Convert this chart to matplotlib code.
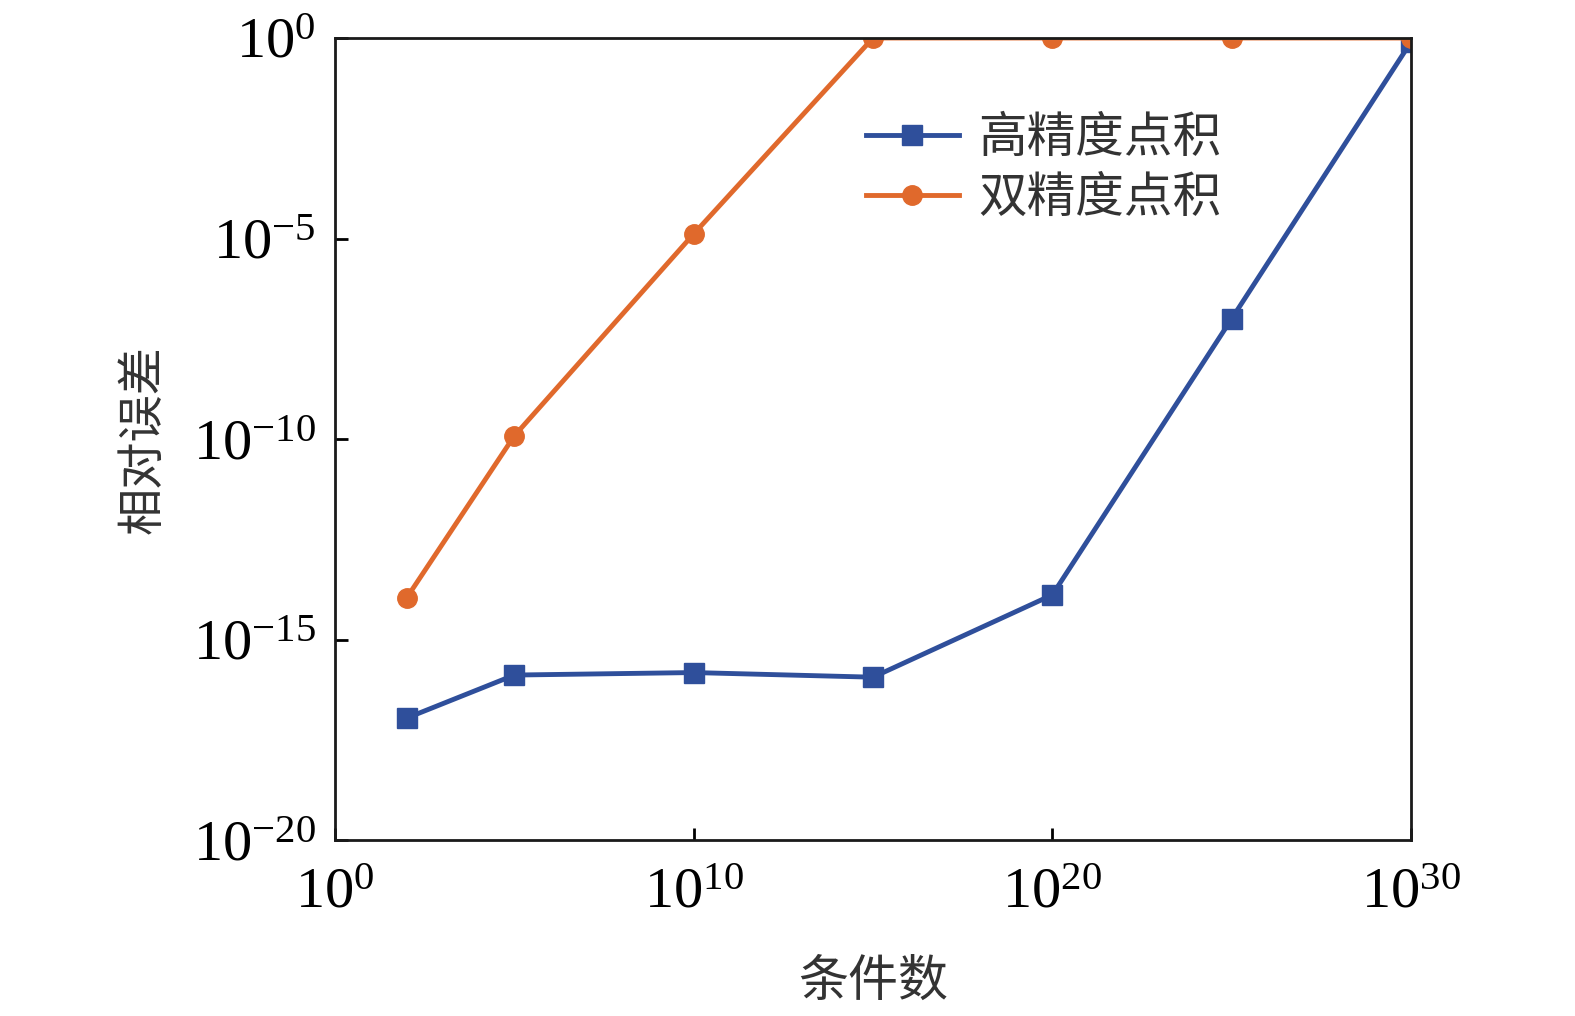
import numpy as np
import matplotlib
matplotlib.use("Agg")
import matplotlib.pyplot as plt

plt.rcParams['font.family'] = ['Liberation Serif', 'Noto Sans CJK SC', 'DejaVu Sans']
plt.rcParams['mathtext.fontset'] = 'custom'
plt.rcParams['mathtext.rm'] = 'Liberation Serif'
plt.rcParams['mathtext.it'] = 'Liberation Serif'

# Data
cond = [1e2, 1e5, 1e10, 1e15, 1e20, 1e25, 1e30]
err_high = [1.1e-17, 1.3e-16, 1.5e-16, 1.15e-16, 1.3e-14, 1.0e-7, 0.8]
err_double = [1.1e-14, 1.2e-10, 1.3e-5, 1.0, 1.0, 1.0, 1.0]
labels = ['高精度点积', '双精度点积']
x_ticks = [1e0, 1e10, 1e20, 1e30]
y_ticks = [1e-20, 1e-15, 1e-10, 1e-5, 1e0]

blue = '#2f4f9b'
orange = '#e0692c'
cjk = ['Noto Sans CJK SC', 'DejaVu Sans']

fig = plt.figure(figsize=(15.75, 10.16), dpi=100)
ax = fig.add_axes([0.2127, 0.1732, 0.6832, 0.7894])

ax.plot(cond, err_high, color=blue, lw=3.5, marker='s', ms=14, label=labels[0])
ax.plot(cond, err_double, color=orange, lw=3.5, marker='o', ms=14, label=labels[1])

ax.set_xscale('log')
ax.set_yscale('log')
ax.set_xlim(1e0, 1e30)
ax.set_ylim(1e-20, 1e0)
ax.set_xticks(x_ticks)
ax.set_yticks(y_ticks)
ax.set_xticklabels([r'$10^{%d}$' % int(np.log10(v)) for v in x_ticks])
ax.set_yticklabels([r'$10^{%d}$' % int(np.log10(v)) for v in y_ticks])
ax.minorticks_off()
ax.tick_params(direction='in', length=9, width=2, labelsize=42, pad=14)
ax.tick_params(axis='x', pad=20)
for s in ax.spines.values():
    s.set_linewidth(2)
    s.set_color('#1a1a1a')

ax.set_xlabel('条件数', fontsize=36, family=cjk, color='#333333', labelpad=26)
ax.set_ylabel('相对误差', fontsize=34, family=cjk, color='#333333', labelpad=18)

leg = ax.legend(loc='upper left', bbox_to_anchor=(0.453, 0.96), frameon=False,
                prop={'family': cjk, 'size': 35}, handlelength=1.9,
                handletextpad=0.4, labelspacing=0.2)
for t in leg.get_texts():
    t.set_color('#333333')

fig.savefig('out.png', dpi=100)
